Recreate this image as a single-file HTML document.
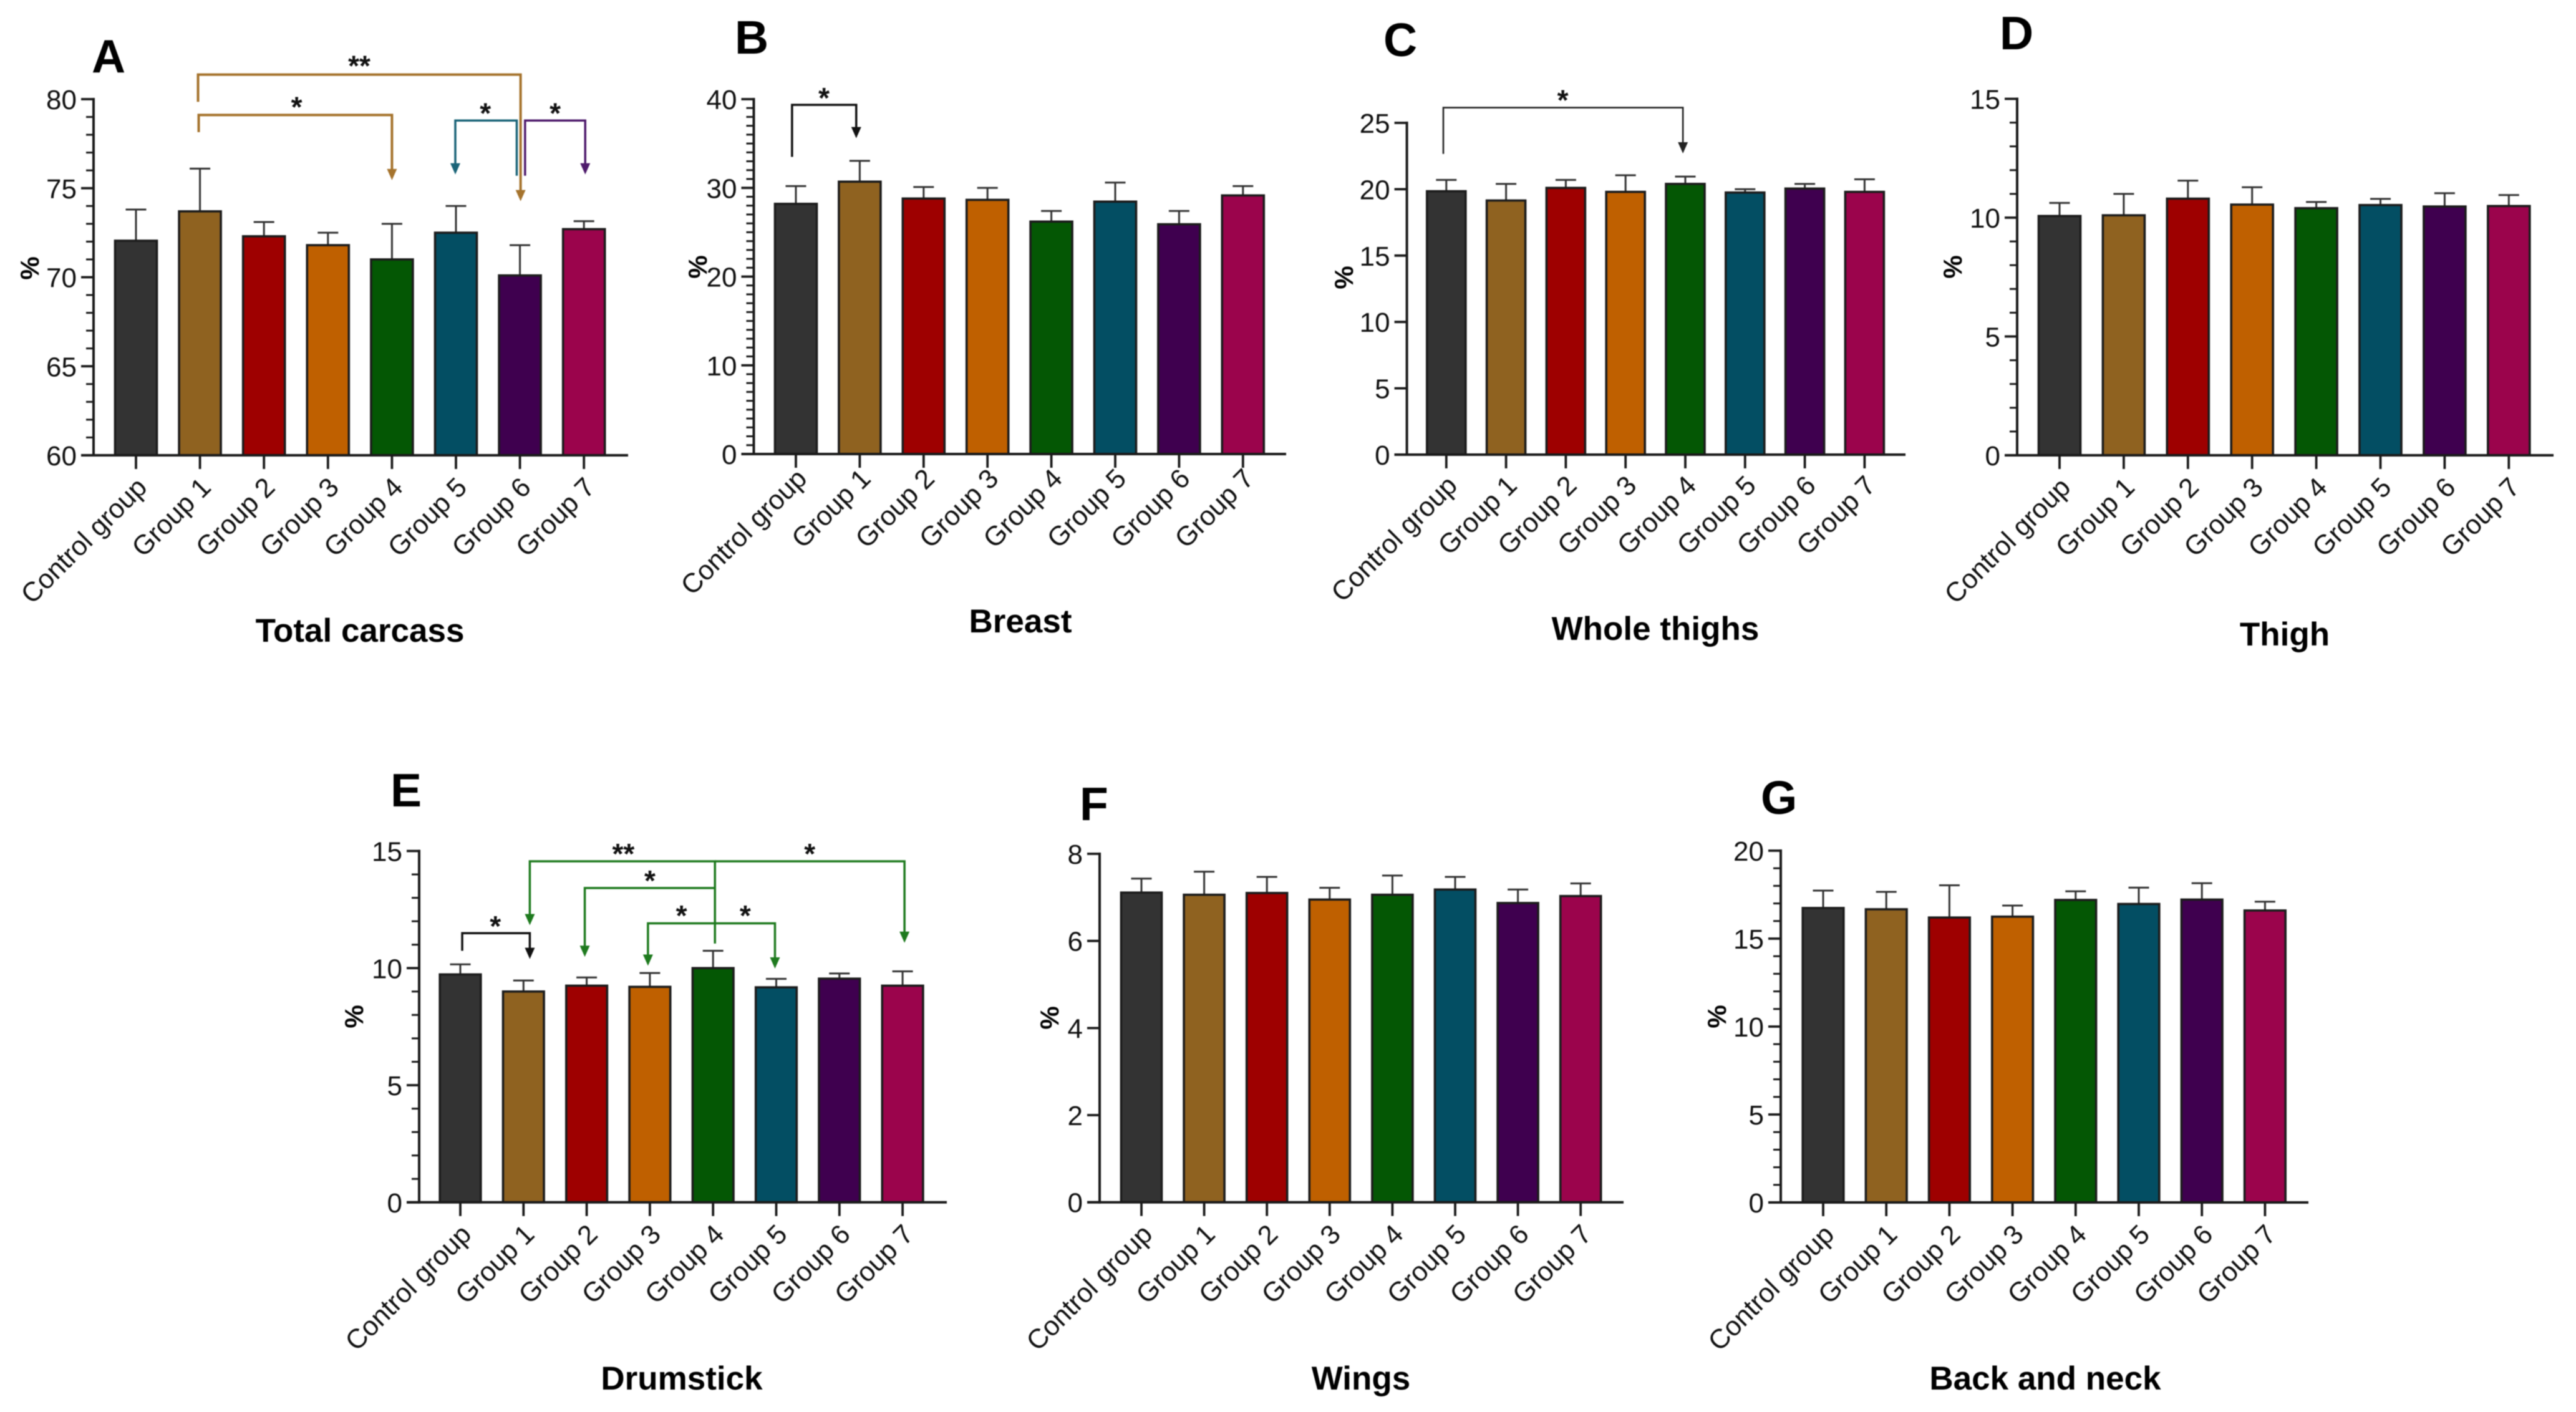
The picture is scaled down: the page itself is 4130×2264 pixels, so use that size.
<!DOCTYPE html>
<html lang="en">
<head>
<meta charset="utf-8">
<title>Carcass traits by group</title>
<style>
html,body{margin:0;padding:0;background:#fff;width:4130px;height:2264px;overflow:hidden}
svg{display:block;filter:blur(0.7px)}
text{font-family:"Liberation Sans",Arial,sans-serif;fill:#111}
.letter{font-size:75px;font-weight:700;fill:#000}
.title{font-size:53px;font-weight:700;text-anchor:middle;fill:#000}
.ylab{font-size:42px;font-weight:700;text-anchor:middle;fill:#000}
</style>
</head>
<body>
<svg id="figure" xmlns="http://www.w3.org/2000/svg" width="4130" height="2264" viewBox="0 0 4130 2264">
  <rect x="0" y="0" width="4130" height="2264" fill="#ffffff"/>
  <g id="panel-a">
    <text class="letter" x="147" y="116">A</text>
    <text class="title" x="577" y="1029">Total carcass</text>
    <text class="ylab" transform="translate(62,430) rotate(-90)">%</text>
  </g>
  <g id="panel-b">
    <text class="letter" x="1178" y="86">B</text>
    <text class="title" x="1636" y="1014">Breast</text>
    <text class="ylab" transform="translate(1133,428) rotate(-90)">%</text>
  </g>
  <g id="panel-c">
    <text class="letter" x="2218" y="90">C</text>
    <text class="title" x="2654" y="1026">Whole thighs</text>
    <text class="ylab" transform="translate(2169,445) rotate(-90)">%</text>
  </g>
  <g id="panel-d">
    <text class="letter" x="3206" y="79">D</text>
    <text class="title" x="3663" y="1035">Thigh</text>
    <text class="ylab" transform="translate(3145,428) rotate(-90)">%</text>
  </g>
  <g id="panel-e">
    <text class="letter" x="626" y="1293">E</text>
    <text class="title" x="1093" y="2228">Drumstick</text>
    <text class="ylab" transform="translate(582,1630) rotate(-90)">%</text>
  </g>
  <g id="panel-f">
    <text class="letter" x="1731" y="1315">F</text>
    <text class="title" x="2182" y="2228">Wings</text>
    <text class="ylab" transform="translate(1697,1632) rotate(-90)">%</text>
  </g>
  <g id="panel-g">
    <text class="letter" x="2823" y="1305">G</text>
    <text class="title" x="3279" y="2228">Back and neck</text>
    <text class="ylab" transform="translate(2767,1630) rotate(-90)">%</text>
  </g>
</svg>
<script>
const categories = ['Control group','Group 1','Group 2','Group 3','Group 4','Group 5','Group 6','Group 7'];
const barColors = ['#333333','#8f6220','#9e0000','#bf6000','#045704','#034e63','#3f004f','#9b044c'];

const carcassMeans = [72.05,73.7,72.3,71.8,71.0,72.5,70.1,72.7];
const carcassErrTops = [73.8,76.1,73.1,72.5,73.0,74.0,71.8,73.15];
const carcassTicks = [60,65,70,75,80];

const breastMeans = [28.2,30.7,28.8,28.65,26.2,28.45,25.9,29.15];
const breastErrTops = [30.2,33.05,30.1,30.0,27.4,30.6,27.4,30.2];
const breastTicks = [0,10,20,30,40];

const wholeThighMeans = [19.85,19.15,20.1,19.8,20.4,19.75,20.05,19.8];
const wholeThighErrTops = [20.7,20.4,20.7,21.05,20.95,20.0,20.4,20.75];
const wholeThighTicks = [0,5,10,15,20,25];

const thighMeans = [10.07,10.1,10.8,10.55,10.4,10.53,10.47,10.49];
const thighErrTops = [10.62,11.0,11.56,11.28,10.66,10.79,11.03,10.95];
const thighTicks = [0,5,10,15];

const drumstickMeans = [9.73,9.0,9.25,9.2,10.0,9.18,9.55,9.25];
const drumstickErrTops = [10.16,9.47,9.6,9.79,10.74,9.54,9.77,9.86];
const drumstickTicks = [0,5,10,15];

const wingsMeans = [7.11,7.06,7.1,6.95,7.06,7.18,6.87,7.03];
const wingsErrTops = [7.43,7.59,7.47,7.22,7.5,7.47,7.18,7.32];
const wingsTicks = [0,2,4,6,8];

const backNeckMeans = [16.74,16.67,16.2,16.25,17.2,16.97,17.22,16.6];
const backNeckErrTops = [17.73,17.66,18.03,16.88,17.69,17.9,18.15,17.1];
const backNeckTicks = [0,5,10,15,20];

/* brackets: from-category, start value, top value, to-category, arrow-tip value, colour, stroke */
const carcassBrackets = [
  [0.97,79.85,81.38,6.01,74.27,'#a5732d',4],
  [0.98,78.15,79.11,4.0,75.45,'#a5732d',4],
  [5.95,75.7,78.8,4.99,75.77,'#1a6478',3.5],
  [6.08,75.7,78.8,7.02,75.77,'#4e1a6b',3.5]
];
/* significance labels: category position, value at glyph centre, text */
const carcassStars = [[3.49,82.15,'**'],[2.51,79.85,'*'],[5.46,79.5,'*'],[6.55,79.5,'*']];

const breastBrackets = [[-0.06,33.5,39.36,0.945,35.6,'#111111',3.5]];
const breastStars = [[0.44,40.7,'*']];

const wholeThighBrackets = [[-0.05,22.66,26.15,3.96,22.7,'#222222',2.6]];
const wholeThighStars = [[1.95,27.1,'*']];

const drumstickBrackets = [
  [0.03,10.74,11.49,1.1,10.39,'#111111',3.5],
  [4.03,11.05,14.56,1.1,11.83,'#1e7a1e',3.5],
  [4.03,14.56,14.56,7.03,11.08,'#1e7a1e',3.5],
  [4.03,13.42,13.42,1.97,10.48,'#1e7a1e',3.5],
  [4.03,11.91,11.91,2.97,10.1,'#1e7a1e',3.5],
  [4.03,11.91,11.91,4.98,9.98,'#1e7a1e',3.5]
];
const drumstickStars = [[0.555,12.0,'*'],[2.58,15.09,'**'],[5.53,15.09,'*'],[3.0,13.95,'*'],[3.5,12.46,'*'],[4.51,12.46,'*']];

/* plot geometry for each panel, in page pixels */
const panels = [
  {id:'panel-a',key:'total-carcass',means:carcassMeans,errs:carcassErrTops,ticks:carcassTicks,minor:1,axisX:150,top:159,bottom:730,first:218,step:102.6,barW:67,end:1007,labelDy:54,brackets:carcassBrackets,stars:carcassStars},
  {id:'panel-b',key:'breast',means:breastMeans,errs:breastErrTops,ticks:breastTicks,minor:1,axisX:1208.5,top:159,bottom:728,first:1276,step:102.4,barW:67,end:2062,labelDy:42,brackets:breastBrackets,stars:breastStars},
  {id:'panel-c',key:'whole-thighs',means:wholeThighMeans,errs:wholeThighErrTops,ticks:wholeThighTicks,minor:0,axisX:2255.6,top:197,bottom:729,first:2318.8,step:95.8,barW:62,end:3055,labelDy:52,brackets:wholeThighBrackets,stars:wholeThighStars},
  {id:'panel-d',key:'thigh',means:thighMeans,errs:thighErrTops,ticks:thighTicks,minor:1,axisX:3234,top:158.5,bottom:730,first:3302,step:102.9,barW:67,end:4094,labelDy:54,brackets:[],stars:[]},
  {id:'panel-e',key:'drumstick',means:drumstickMeans,errs:drumstickErrTops,ticks:drumstickTicks,minor:1,axisX:672,top:1364.5,bottom:1927.8,first:738,step:101.3,barW:65.6,end:1518,labelDy:54,brackets:drumstickBrackets,stars:drumstickStars},
  {id:'panel-f',key:'wings',means:wingsMeans,errs:wingsErrTops,ticks:wingsTicks,minor:0,axisX:1763,top:1369,bottom:1927.7,first:1830,step:100.6,barW:65,end:2603,labelDy:54,brackets:[],stars:[]},
  {id:'panel-g',key:'back-and-neck',means:backNeckMeans,errs:backNeckErrTops,ticks:backNeckTicks,minor:1,axisX:2855,top:1364,bottom:1928,first:2923,step:101.2,barW:65.6,end:3701,labelDy:54,brackets:[],stars:[]}
];

const NS = 'http://www.w3.org/2000/svg';
const AXIS_COLOR = '#1a1a1a';

function make(parent, tag, attrs) {
  const node = document.createElementNS(NS, tag);
  for (const k in attrs) node.setAttribute(k, attrs[k]);
  parent.appendChild(node);
  return node;
}

function drawPanel(p) {
  const root = document.getElementById(p.id);
  const lo = p.ticks[0];
  const hi = p.ticks[p.ticks.length - 1];
  const yScale = v => p.bottom - (v - lo) / (hi - lo) * (p.bottom - p.top);
  const xScale = i => p.first + i * p.step;

  /* bars */
  p.means.forEach((m, i) => {
    const errLine = make(root, 'line', {x1:xScale(i), x2:xScale(i), y1:yScale(m), y2:yScale(p.errs[i]), stroke:'#333', 'stroke-width':3});
    
    
    const cap = make(root, 'line', {x1:xScale(i) - 16.5, x2:xScale(i) + 16.5, y1:yScale(p.errs[i]), y2:yScale(p.errs[i]), stroke:'#333', 'stroke-width':3});
    
    
    const bar = make(root, 'rect', {x:xScale(i) - p.barW / 2, y:yScale(m), width:p.barW, height:p.bottom - yScale(m), fill:barColors[i], stroke:'#1c1c1c', 'stroke-width':3.6});
    
    
  });

  /* axes */
  const yAxis = make(root, 'line', {x1:p.axisX, x2:p.axisX, y1:p.top - 2, y2:p.bottom + 2, stroke:AXIS_COLOR, 'stroke-width':4});
  
  
  const xAxis = make(root, 'line', {x1:p.axisX - 20, x2:p.end, y1:p.bottom, y2:p.bottom, stroke:AXIS_COLOR, 'stroke-width':4});
  
  

  if (p.minor) {
    for (let v = lo; v <= hi; v += p.minor) {
      if (p.ticks.includes(v)) continue;
      const mt = make(root, 'line', {x1:p.axisX - 12, x2:p.axisX, y1:yScale(v), y2:yScale(v), stroke:AXIS_COLOR, 'stroke-width':3});
      
      
    }
  }
  p.ticks.forEach(v => {
    const t = make(root, 'line', {x1:p.axisX - 20, x2:p.axisX, y1:yScale(v), y2:yScale(v), stroke:AXIS_COLOR, 'stroke-width':3.8});
    
    
    const lab = make(root, 'text', {x:p.axisX - 27, y:yScale(v) + 16, 'text-anchor':'end', 'font-size':44});
    lab.textContent = String(v);
    
    
  });

  /* category ticks and labels */
  categories.forEach((c, i) => {
    const t = make(root, 'line', {x1:xScale(i), x2:xScale(i), y1:p.bottom, y2:p.bottom + 22, stroke:AXIS_COLOR, 'stroke-width':3.8});
    
    
    const lx = xScale(i) + 20;
    const ly = p.bottom + p.labelDy;
    const lab = make(root, 'text', {x:lx, y:ly, 'text-anchor':'end', 'font-size':43.5, transform:'rotate(-45 ' + lx + ' ' + ly + ')'});
    lab.textContent = c;
    
    
  });

  /* significance brackets */
  p.brackets.forEach(b => {
    const [from, start, top, to, tip, color, sw] = b;
    const x1 = xScale(from), x2 = xScale(to), yt = yScale(top), yTip = yScale(tip);
    const line = make(root, 'polyline', {points:x1 + ',' + yScale(start) + ' ' + x1 + ',' + yt + ' ' + x2 + ',' + yt + ' ' + x2 + ',' + (yTip - 10), fill:'none', stroke:color, 'stroke-width':sw});
    
    
    const head = make(root, 'polygon', {points:(x2 - 8) + ',' + (yTip - 18) + ' ' + (x2 + 8) + ',' + (yTip - 18) + ' ' + x2 + ',' + yTip, fill:color});
    
    
  });
  p.stars.forEach(s => {
    const star = make(root, 'text', {x:xScale(s[0]), y:yScale(s[1]) + 24, 'text-anchor':'middle', 'font-size':46, 'font-weight':700, fill:'#000'});
    star.textContent = s[2];
    
    
  });
}

panels.forEach(drawPanel);
</script>
</body>
</html>
